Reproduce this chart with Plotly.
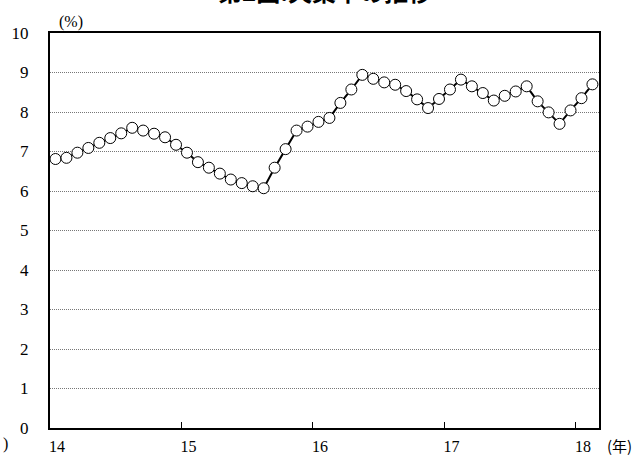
import plotly.graph_objects as go

# Monthly unemployment rate (%), Jan 2014 - Feb 2018
rate_2014 = [6.81, 6.84, 6.97, 7.09, 7.22, 7.34, 7.46, 7.60, 7.53, 7.45, 7.36, 7.17]
rate_2015 = [6.97, 6.73, 6.59, 6.44, 6.29, 6.20, 6.12, 6.07, 6.59, 7.06, 7.53, 7.63]
rate_2016 = [7.75, 7.85, 8.23, 8.57, 8.94, 8.84, 8.75, 8.69, 8.53, 8.32, 8.10, 8.33]
rate_2017 = [8.57, 8.82, 8.65, 8.48, 8.29, 8.41, 8.52, 8.65, 8.27, 7.99, 7.70, 8.04]
rate_2018 = [8.35, 8.70]

year_labels = ["14", "15", "16", "17", "18"]
y_ticks = list(range(0, 11))

rates = rate_2014 + rate_2015 + rate_2016 + rate_2017 + rate_2018
# each month is plotted at the middle of its slot on a month-index axis
months = [i + 0.5 for i in range(len(rates))]
year_pos = [12 * i for i in range(len(year_labels))]

serif = "Liberation Serif"

fig = go.Figure()
fig.add_trace(go.Scatter(
    x=months, y=rates, mode="lines+markers",
    line=dict(color="black", width=2),
    marker=dict(symbol="circle", size=11, color="white",
                line=dict(color="black", width=1)),
    showlegend=False, hoverinfo="y",
))

fig.update_layout(
    width=642, height=456,
    margin=dict(l=50, r=43, t=33, b=28),
    paper_bgcolor="white", plot_bgcolor="white",
    font=dict(family=serif, size=16, color="black"),
    xaxis=dict(
        range=[0, 50.1], tickvals=year_pos, ticktext=year_labels,
        ticks="inside", ticklen=6, tickcolor="black", tickwidth=1,
        showline=True, linecolor="black", linewidth=2, mirror=True,
        showgrid=False, zeroline=False, automargin=False,
        ticklabelshift=7, ticklabelstandoff=3,
        tickfont=dict(family=serif, size=16),
    ),
    yaxis=dict(
        range=[0, 10], tickvals=y_ticks,
        ticks="", showline=True, linecolor="black", linewidth=2, mirror=True,
        showgrid=True, gridcolor="#777777", griddash="1px,1px", gridwidth=1,
        zeroline=False, automargin=False, ticklabelstandoff=16,
        tickfont=dict(family=serif, size=17),
    ),
    annotations=[
        dict(text="<b>第2図:失業率の推移</b>", xref="paper", yref="paper",
             x=0.5, y=1.058, xanchor="center", yanchor="bottom", showarrow=False,
             font=dict(family="Noto Sans CJK JP", size=24, color="black")),
        dict(text="(%)", xref="paper", yref="paper", x=0.013, y=1.0,
             xanchor="left", yanchor="bottom", showarrow=False,
             font=dict(family=serif, size=16)),
        dict(text="(年)", xref="paper", yref="paper", x=1.0, y=-0.012,
             xanchor="left", yanchor="top", xshift=6, showarrow=False,
             font=dict(family="Noto Sans CJK JP", size=15)),
        dict(text=")", xref="paper", yref="paper", x=0.0, y=-0.012,
             xanchor="right", yanchor="top", xshift=-40, showarrow=False,
             font=dict(family=serif, size=16)),
    ],
)

fig.write_html("out.html")
